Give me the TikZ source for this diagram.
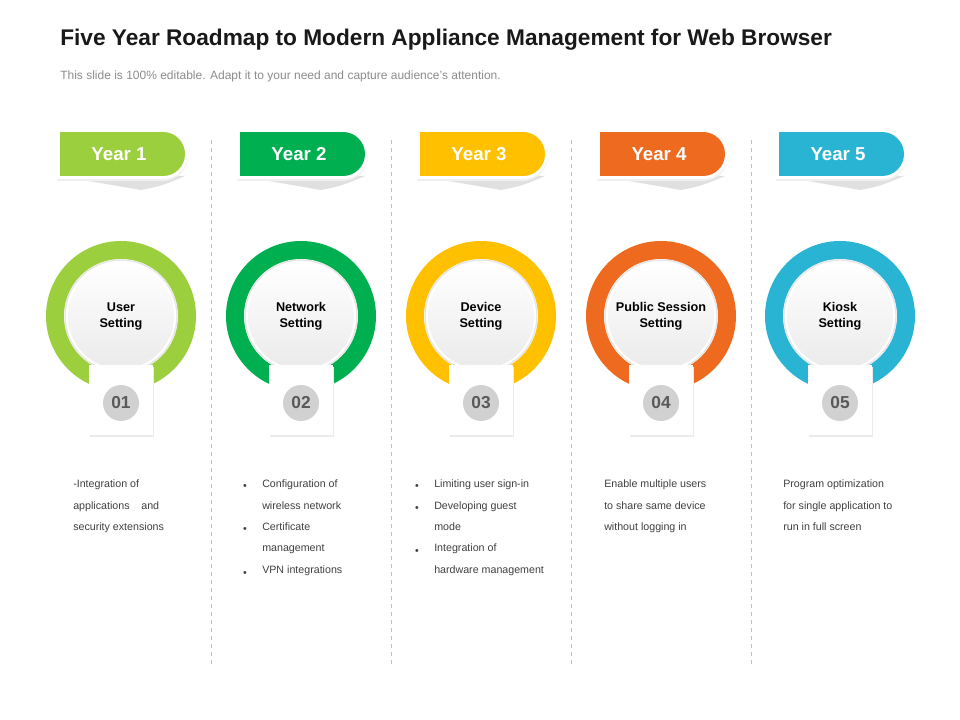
\documentclass[tikz,border=0pt]{standalone}
\usepackage{fontspec}
\setmainfont{Liberation Sans}
\usetikzlibrary{shadows}
\definecolor{cA}{HTML}{9BCF3E}
\definecolor{cB}{HTML}{00AF50}
\definecolor{cC}{HTML}{FFC000}
\definecolor{cD}{HTML}{EE6A1E}
\definecolor{cE}{HTML}{2AB4D4}
\definecolor{txt}{HTML}{404040}
\definecolor{sub}{HTML}{8C8C8C}
\tikzset{
  desc/.style={anchor=north west,align=left,font=\fontsize{8}{16}\selectfont,text=txt,inner sep=0pt},
  divider/.style={dashed,draw=black!25,line width=0.5pt},
  yeartxt/.style={font=\bfseries\fontsize{14}{16}\selectfont,text=white},
  numtxt/.style={circle,fill=black!18,minimum size=27pt,inner sep=0pt,font=\bfseries\fontsize{13}{14}\selectfont,text=black!65},
  labtxt/.style={align=center,font=\bfseries\fontsize{9.5}{12}\selectfont,text=black}
}
\begin{document}
\begin{tikzpicture}[x=0.75pt,y=-0.75pt]
\useasboundingbox (0,0) rectangle (960,720);
\fill[white] (0,0) rectangle (960,720);
\node[anchor=west,inner sep=0pt,font=\bfseries\fontsize{17}{20}\selectfont,text=black!90] (title) at (60,40) {Five Year Roadmap to Modern Appliance Management for Web Browser};
\node[anchor=west,inner sep=0pt,font=\fontsize{9}{11}\selectfont,text=sub] (subtitle) at (60,76) {This slide is 100\% editable. Adapt it to your need and capture audience's attention.};
\foreach \x in {211,391,571,751}{
  \draw[divider] (\x,140) -- (\x,665);
}
\foreach \cx/\col/\yr/\lab/\num in {121/cA/1/{User\\Setting}/01,301/cB/2/{Network\\Setting}/02,481/cC/3/{Device\\Setting}/03,661/cD/4/{Public Session\\Setting}/04,840/cE/5/{Kiosk\\Setting}/05}{
  % tab shadow
  \fill[black!12] (\cx-61,176) -- (\cx+64,176) .. controls (\cx+40,186) .. (\cx+20,190) -- cycle;
  \fill[black!6] (\cx-64,131) rectangle (\cx+42,181);
  \fill[black!6] (\cx+42,156) circle[radius=25];
  \fill[white] (\cx-64,129) rectangle (\cx+42,179);
  \fill[white] (\cx+42,154) circle[radius=25];
  \fill[\col] (\cx-61,132) rectangle (\cx+42,176);
  \fill[\col] (\cx+42,154) circle[radius=22];
  \node[yeartxt] (y\yr) at (\cx-2,154) {Year \yr};
  % ring
  \fill[\col] (\cx,316) circle[radius=75];
  \fill[white] (\cx,316) circle[radius=57];
  \draw[black!10,line width=1pt] (\cx,316) circle[radius=56];
  \shade[top color=white,bottom color=black!8] (\cx,316) circle[radius=53];
  \node[labtxt] (l\yr) at (\cx,316) {\lab};
  % number box
  \fill[black!8] (\cx-31,367) rectangle (\cx+33,437);
  \fill[white] (\cx-32,365) rectangle (\cx+32,435);
  \node[numtxt] (n\yr) at (\cx,403) {\num};
}
\node[desc] (d1) at (73,480) {-Integration of\\applications\hspace{1.1em}and\\security extensions};
\node[desc] (d2) at (262,480) {Configuration of\\wireless network\\Certificate\\management\\VPN integrations};
\foreach \yy in {483,526,570}{\node[font=\fontsize{8}{9}\selectfont,text=txt] at (245,\yy+4) {\textbullet};}
\node[desc] (d3) at (434,480) {Limiting user sign-in\\Developing guest\\mode\\Integration of\\hardware management};
\foreach \yy in {483,505,548}{\node[font=\fontsize{8}{9}\selectfont,text=txt] at (417,\yy+4) {\textbullet};}
\node[desc] (d4) at (604,480) {Enable multiple users\\to share same device\\without logging in};
\node[desc] (d5) at (783,480) {Program optimization\\for single application to\\run in full screen};
\end{tikzpicture}
\end{document}
